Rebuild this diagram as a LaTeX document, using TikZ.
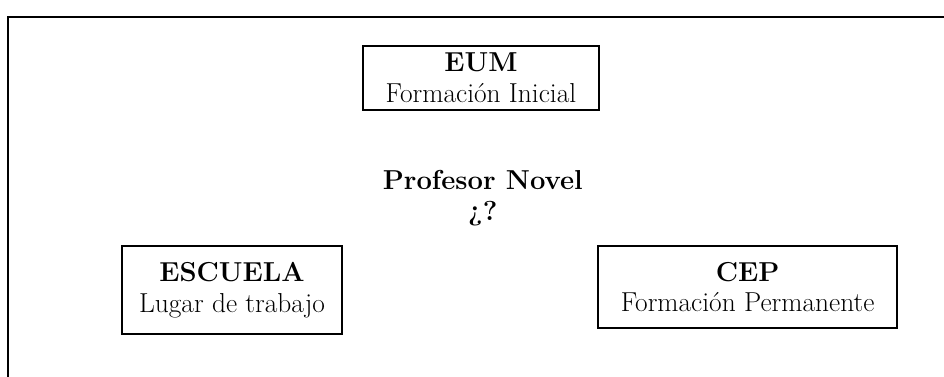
\documentclass[tikz,border=0pt]{standalone}
\usepackage{fontspec}
\usepackage{tikz}
\usetikzlibrary{positioning}
\usepackage{xcolor}

\begin{document}
\begin{tikzpicture}[
    caja/.style={rectangle, draw=black, line width=0.9pt, align=center,
                 inner sep=0pt, font=\fontsize{19.5}{22}\selectfont},
    centro/.style={align=center, font=\fontsize{19.5}{22}\selectfont},
]
    \clip (0,0) rectangle (23.6,-9.4);

    % Outer frame
    \draw[line width=0.9pt] (0.2,-0.425) rectangle (24.0,-9.8);

    % Boxes
    \node[caja, minimum width=5.9cm, minimum height=1.6cm] (eum) at (12.025,-1.95)
          {\textbf{EUM}\\Formación Inicial};
    \node[caja, minimum width=5.5cm, minimum height=2.2cm] (escuela) at (5.8,-7.25)
          {\textbf{ESCUELA}\\Lugar de trabajo};
    \node[caja, minimum width=7.475cm, minimum height=2.05cm] (cep) at (18.69,-7.175)
          {\textbf{CEP}\\Formación Permanente};

    % Centre
    \node[centro] (novel) at (12.07,-4.95) {\textbf{Profesor Novel}\\\textbf{¿?}};
\end{tikzpicture}
\end{document}
